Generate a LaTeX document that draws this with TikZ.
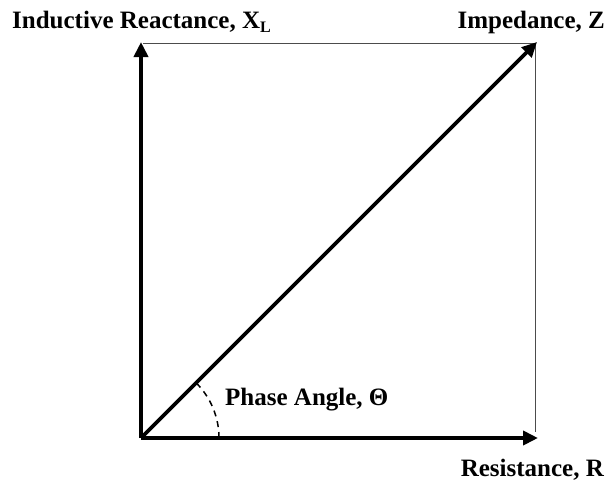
\documentclass[tikz,border=0pt]{standalone}
\usepackage{fontspec}
\setmainfont{Liberation Serif}
\usetikzlibrary{arrows.meta,calc}
\begin{document}
\begin{tikzpicture}[x=1pt,y=-1pt,
  axis/.style={line width=3.8pt,-{Triangle[length=15pt,width=14pt]}},
  thin/.style={line width=1pt,draw=black!70},
  lbl/.style={font=\fontsize{25}{29}\selectfont\bfseries,inner sep=0pt}]
\useasboundingbox (0,0) rectangle (608,483);
\coordinate (O) at (141,438);
\coordinate (X) at (538,438);
\coordinate (Y) at (141,42);
\coordinate (Z) at (537,42);
\coordinate (TL) at (143,43);
\coordinate (TR) at (535,43);
\coordinate (BR) at (535,432);
\draw[thin] (TL) -- (TR) -- (BR);
\draw[axis] (O) -- (X);
\draw[axis] (O) -- (Y);
\draw[axis,line width=3.6pt] (O) -- (Z);
\draw[line width=1.5pt,dash pattern=on 6pt off 5pt] ($(O)+(78,0)$) arc[start angle=0,end angle=-45,radius=78];
\node[lbl,anchor=base west] (xl) at (12,28) {Inductive Reactance, X\raisebox{-4pt}{\fontsize{16}{18}\selectfont L}};
\node[lbl,anchor=base east] (zl) at (605,28) {Impedance, Z};
\node[lbl,anchor=base east] (rl) at (604,476) {Resistance, R};
\node[lbl,anchor=base west] (pl) at (225,405) {Phase Angle, Θ};
\end{tikzpicture}
\end{document}
